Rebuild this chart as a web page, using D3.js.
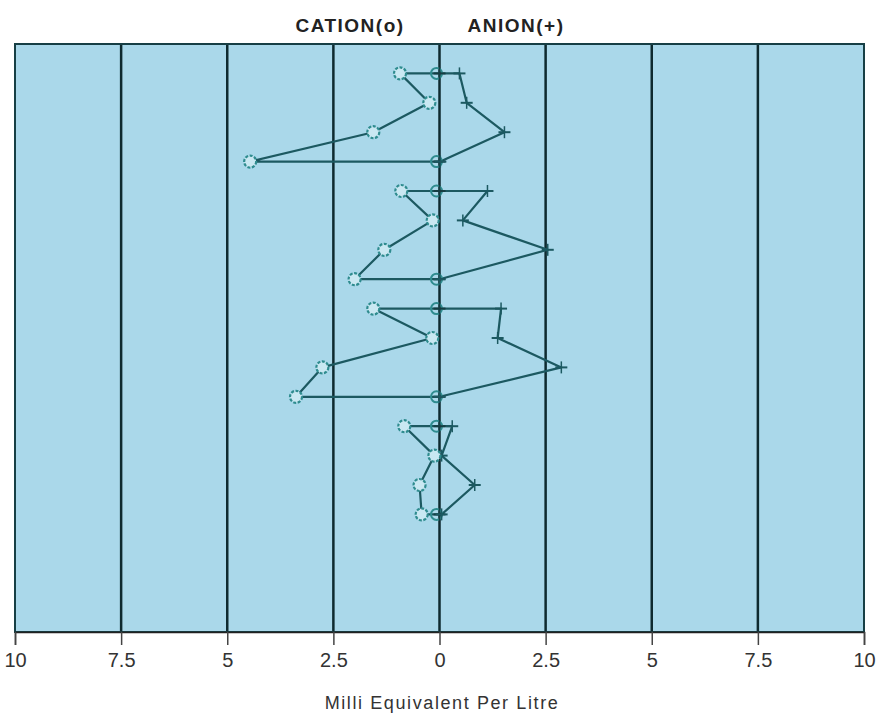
<!DOCTYPE html>
<html>
<head>
<meta charset="utf-8">
<script src="https://cdn.jsdelivr.net/npm/d3@7"></script>
<style>
  body { margin: 0; background: #fff; }
  text { font-family: "Liberation Sans", Arial, sans-serif; }
</style>
</head>
<body>
<div id="chart"></div>
<script>
var width = 884;
var height = 721;
var margin = {top: 44, right: 20, bottom: 88, left: 15};

// meq/L, four rows per sample
var sampleNames = ["S1", "S2", "S3", "S4"];
var cations = [
  [0.93, 0.24, 1.56, 4.46],
  [0.90, 0.16, 1.30, 2.00],
  [1.56, 0.17, 2.76, 3.38],
  [0.83, 0.12, 0.47, 0.42]
];
var anions = [
  [0.47, 0.64, 1.53, 0.02],
  [1.13, 0.55, 2.55, 0.00],
  [1.45, 1.37, 2.87, 0.00],
  [0.30, 0.05, 0.83, 0.05]
];
var tickValues = [-10, -7.5, -5, -2.5, 0, 2.5, 5, 7.5, 10];
var rowsPerSample = 4;
var totalRows = 20;

var svg = d3.select("#chart").append("svg")
    .attr("width", width)
    .attr("height", height);

var x = d3.scaleLinear()
    .domain([-10, 10])
    .range([margin.left, width - margin.right]);

var y = d3.scaleLinear()
    .domain([0, totalRows])
    .range([margin.top, height - margin.bottom - 1]);

// plot background
svg.append("rect")
    .attr("x", x(-10))
    .attr("y", y(0))
    .attr("width", x(10) - x(-10))
    .attr("height", y(totalRows) - y(0))
    .attr("fill", "#aad8ea");

// vertical grid lines
svg.append("g")
  .selectAll("line")
  .data(tickValues.slice(1, -1))
  .enter()
  .append("line")
    .attr("x1", function(d){ return x(d); })
    .attr("x2", function(d){ return x(d); })
    .attr("y1", y(0))
    .attr("y2", y(totalRows))
    .attr("stroke", "#0e2a2f")
    .attr("stroke-width", 2.5);

// frame
svg.append("rect")
    .attr("x", x(-10))
    .attr("y", y(0))
    .attr("width", x(10) - x(-10))
    .attr("height", y(totalRows) - y(0))
    .attr("fill", "none")
    .attr("stroke", "#173f45")
    .attr("stroke-width", 2);

// x axis
var xAxis = d3.axisBottom(x)
    .tickValues(tickValues)
    .tickSize(13)
    .tickPadding(8)
    .tickFormat(function(d){ return String(Math.abs(d)); });

var axisG = svg.append("g")
    .attr("transform", "translate(0," + y(totalRows) + ")")
    .call(xAxis);
axisG.select(".domain").attr("stroke", "#222").attr("stroke-width", 1.5);
axisG.selectAll(".tick line").attr("stroke", "#444").attr("stroke-width", 1.5);
axisG.selectAll(".tick text")
    .attr("fill", "#333")
    .style("font-size", "20px");

svg.append("text")
    .attr("x", 442)
    .attr("y", 709)
    .attr("text-anchor", "middle")
    .attr("fill", "#333")
    .style("font-size", "18px")
    .style("letter-spacing", "1.6px")
    .text("Milli Equivalent Per Litre");

// header
svg.append("text")
    .attr("x", 350)
    .attr("y", 32)
    .attr("text-anchor", "middle")
    .attr("fill", "#222")
    .style("font-size", "19px")
    .style("font-weight", "bold")
    .style("letter-spacing", "1.5px")
    .text("CATION(o)");
svg.append("text")
    .attr("x", 516)
    .attr("y", 32)
    .attr("text-anchor", "middle")
    .attr("fill", "#222")
    .style("font-size", "19px")
    .style("font-weight", "bold")
    .style("letter-spacing", "1.5px")
    .text("ANION(+)");

var lineColor = "#1c5961";
var markColor = "#2f8c8f";

function plus(g, cx, cy, color) {
  g.append("line").attr("x1", cx - 6).attr("x2", cx + 6).attr("y1", cy).attr("y2", cy)
    .attr("stroke", color).attr("stroke-width", 2);
  g.append("line").attr("x1", cx).attr("x2", cx).attr("y1", cy - 6).attr("y2", cy + 6)
    .attr("stroke", color).attr("stroke-width", 1.5);
}

sampleNames.forEach(function(name, s) {
  var g = svg.append("g").attr("class", "sample " + name);
  var rows = d3.range(rowsPerSample).map(function(i){ return s * rowsPerSample + i + 1; });

  // closed stiff polygon: cations down the left, anions back up the right
  var pts = [];
  rows.forEach(function(r, i){ pts.push([x(-cations[s][i]), y(r)]); });
  for (var i = rowsPerSample - 1; i >= 0; i--) pts.push([x(anions[s][i]), y(rows[i])]);

  g.append("path")
      .attr("d", d3.line()(pts) + "Z")
      .attr("fill", "none")
      .attr("stroke", lineColor)
      .attr("stroke-width", 2.2)
      .attr("stroke-linejoin", "round");

  // zero markers on first and last rows
  [rows[0], rows[rowsPerSample - 1]].forEach(function(r){
    g.append("circle")
        .attr("cx", x(0) - 3).attr("cy", y(r)).attr("r", 5.5)
        .attr("fill", "none").attr("stroke", markColor).attr("stroke-width", 2);
    plus(g, x(0), y(r), "#153d42");
  });

  // anion markers
  rows.forEach(function(r, i){ plus(g, x(anions[s][i]), y(r), lineColor); });

  // cation markers
  g.selectAll("circle.cat")
    .data(rows)
    .enter()
    .append("circle")
      .attr("class", "cat")
      .attr("cx", function(r, i){ return x(-cations[s][i]); })
      .attr("cy", function(r){ return y(r); })
      .attr("r", 6)
      .attr("fill", "#c9e8f2")
      .attr("stroke", markColor)
      .attr("stroke-width", 2.2)
      .attr("stroke-dasharray", "3,1.5");
});
</script>
</body>
</html>
